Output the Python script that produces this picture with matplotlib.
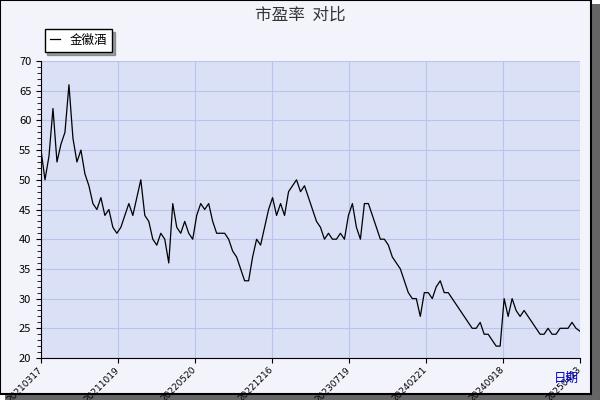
import matplotlib
matplotlib.use("Agg")
import matplotlib.pyplot as plt
import numpy as np

plt.rcParams['font.family'] = ['Noto Sans CJK SC', 'DejaVu Sans']

tick_labels = ['20210317', '20211019', '20220520', '20221216', '20230719', '20240221', '20240918', '20250423']
pe = [55, 50, 54, 62, 53, 56, 58, 66, 57, 53,
      55, 51, 49, 46, 45, 47, 44, 45, 42, 41,
      42, 44, 46, 44, 47, 50, 44, 43, 40, 39,
      41, 40, 36, 46, 42, 41, 43, 41, 40, 44,
      46, 45, 46, 43, 41, 41, 41, 40, 38, 37,
      35, 33, 33, 37, 40, 39, 42, 45, 47, 44,
      46, 44, 48, 49, 50, 48, 49, 47, 45, 43,
      42, 40, 41, 40, 40, 41, 40, 44, 46, 42,
      40, 46, 46, 44, 42, 40, 40, 39, 37, 36,
      35, 33, 31, 30, 30, 27, 31, 31, 30, 32,
      33, 31, 31, 30, 29, 28, 27, 26, 25, 25,
      26, 24, 24, 23, 22, 22, 30, 27, 30, 28,
      27, 28, 27, 26, 25, 24, 24, 25, 24, 24,
      25, 25, 25, 26, 25, 24.5]

fig = plt.figure(figsize=(6, 4), dpi=100, facecolor='white')
fig.patches.append(plt.Rectangle((0.008, 0.0), 0.992, 0.99, transform=fig.transFigure, facecolor='#666666', zorder=-2))
fig.patches.append(plt.Rectangle((0.0, 0.015), 0.985, 0.985, transform=fig.transFigure, facecolor='#f3f4fb', edgecolor='black', lw=1.5, zorder=-1))

ax = fig.add_axes([41/600, 1-358/400, (580-41)/600, (358-61)/400])
ax.set_facecolor('#dae0f5')
x = np.arange(len(pe))
ax.plot(x, pe, color='black', lw=0.9, label='金徽酒')
ax.set_xlim(0, len(pe) - 1)
ax.set_ylim(20, 70)
step = (len(pe) - 1) / 7.0
ax.set_xticks([i * step for i in range(8)])
ax.set_xticklabels(tick_labels, rotation=45, ha='right', va='center', rotation_mode='anchor', fontsize=6.5, family='DejaVu Sans')
ax.tick_params(axis='x', pad=4)
ax.set_yticks(range(20, 71, 5))
ax.set_yticks(range(20, 71, 1), minor=True)
ax.tick_params(axis='y', which='minor', length=3)
ax.tick_params(axis='y', labelsize=8)
ax.grid(True, color='#b8c4ec', lw=0.8)
for s in ['top', 'right']:
    ax.spines[s].set_visible(False)
ax.legend(loc='lower left', bbox_to_anchor=(-0.005, 1.01), fancybox=False, framealpha=1, edgecolor='black', fontsize=9, handlelength=0.8, borderpad=0.4, shadow=True)
fig.text(0.5, 0.962, '市盈率  对比', ha='center', va='center', fontsize=12, color='#333333')
fig.text(0.965, 0.055, '日期', ha='right', va='center', fontsize=9, color='#0000cc')
fig.savefig('out.png', dpi=100, facecolor=fig.get_facecolor())
